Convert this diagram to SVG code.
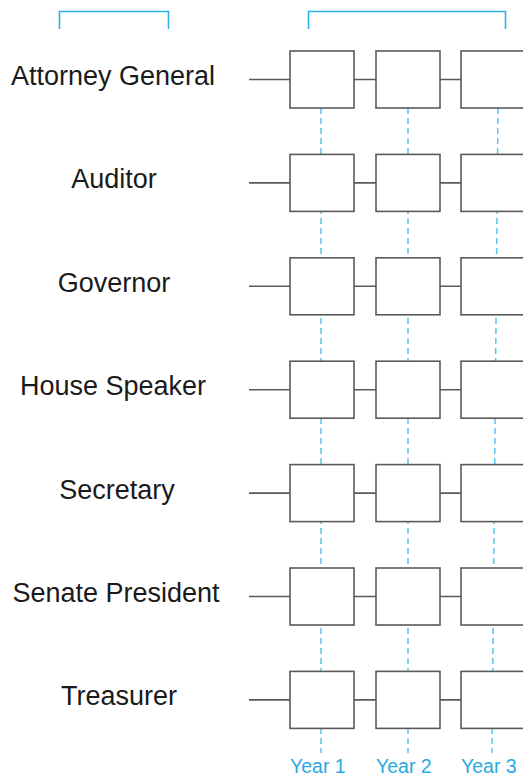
<svg xmlns="http://www.w3.org/2000/svg" width="523" height="777" viewBox="0 0 523 777">
<style>
.box{fill:#fff;stroke:#5a5a5a;stroke-width:1.6}
.con{stroke:#5a5a5a;stroke-width:1.6;fill:none}
.dash{stroke:#5cc4f0;stroke-width:1.5;stroke-dasharray:6 4;fill:none}
.br{stroke:#2bb3ec;stroke-width:1.6;fill:none}
.lbl{font-family:"Liberation Sans",Arial,sans-serif;font-size:27px;fill:#1a1a1a;text-anchor:middle}
.yr{font-family:"Liberation Sans",Arial,sans-serif;font-size:19.5px;fill:#2aa9e3}
</style>
<rect width="523" height="777" fill="#fff"/>
<g id="brackets">
<path class="br" d="M59.5,29 V11.5 H168.5 V29"/>
<path class="br" d="M308.5,29 V11.5 H505.5 V29"/>
</g>
<g id="connectors">
<line class="dash" x1="321" y1="108" x2="321" y2="753"/>
<line class="dash" x1="408" y1="108" x2="408" y2="753"/>
<line class="dash" x1="498" y1="108" x2="492" y2="753"/>
<path class="con" d="M249,79.5H290M354,79.5H376M440,79.5H461"/>
<path class="con" d="M249,182.9H290M354,182.9H376M440,182.9H461"/>
<path class="con" d="M249,286.3H290M354,286.3H376M440,286.3H461"/>
<path class="con" d="M249,389.7H290M354,389.7H376M440,389.7H461"/>
<path class="con" d="M249,493.1H290M354,493.1H376M440,493.1H461"/>
<path class="con" d="M249,596.5H290M354,596.5H376M440,596.5H461"/>
<path class="con" d="M249,699.9H290M354,699.9H376M440,699.9H461"/>
</g>
<g id="row-attorney-general">
<text class="lbl" x="113" y="85">Attorney General</text>
<rect class="box" x="290" y="51" width="64" height="57"/>
<rect class="box" x="376" y="51" width="64" height="57"/>
<rect class="box" x="461" y="51" width="72" height="57"/>
</g>
<g id="row-auditor">
<text class="lbl" x="114" y="188.4">Auditor</text>
<rect class="box" x="290" y="154.4" width="64" height="57"/>
<rect class="box" x="376" y="154.4" width="64" height="57"/>
<rect class="box" x="461" y="154.4" width="72" height="57"/>
</g>
<g id="row-governor">
<text class="lbl" x="114" y="291.8">Governor</text>
<rect class="box" x="290" y="257.8" width="64" height="57"/>
<rect class="box" x="376" y="257.8" width="64" height="57"/>
<rect class="box" x="461" y="257.8" width="72" height="57"/>
</g>
<g id="row-house-speaker">
<text class="lbl" x="113" y="395.2">House Speaker</text>
<rect class="box" x="290" y="361.2" width="64" height="57"/>
<rect class="box" x="376" y="361.2" width="64" height="57"/>
<rect class="box" x="461" y="361.2" width="72" height="57"/>
</g>
<g id="row-secretary">
<text class="lbl" x="117" y="498.6">Secretary</text>
<rect class="box" x="290" y="464.6" width="64" height="57"/>
<rect class="box" x="376" y="464.6" width="64" height="57"/>
<rect class="box" x="461" y="464.6" width="72" height="57"/>
</g>
<g id="row-senate-president">
<text class="lbl" x="116" y="602">Senate President</text>
<rect class="box" x="290" y="568" width="64" height="57"/>
<rect class="box" x="376" y="568" width="64" height="57"/>
<rect class="box" x="461" y="568" width="72" height="57"/>
</g>
<g id="row-treasurer">
<text class="lbl" x="119" y="705.4">Treasurer</text>
<rect class="box" x="290" y="671.4" width="64" height="57"/>
<rect class="box" x="376" y="671.4" width="64" height="57"/>
<rect class="box" x="461" y="671.4" width="72" height="57"/>
</g>
<g id="year-labels">
<text class="yr" x="290" y="773">Year 1</text>
<text class="yr" x="376" y="773">Year 2</text>
<text class="yr" x="461" y="773">Year 3</text>
</g>
</svg>
